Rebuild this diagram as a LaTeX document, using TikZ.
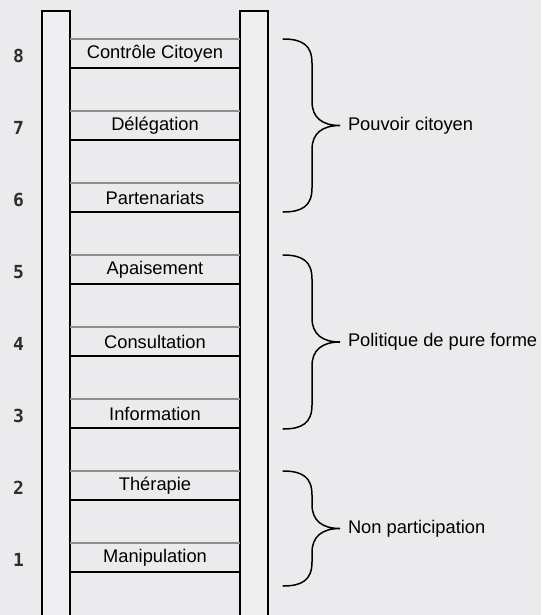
\documentclass[tikz,border=0pt]{standalone}
\usepackage{fontspec}
\setmainfont{Liberation Sans}
\newfontfamily\levelfamily{DejaVu Sans Mono}
\newcommand*{\rungfont}{\fontsize{18.3}{20}\selectfont}
\newcommand*{\levelfont}{\levelfamily\bfseries\fontsize{18}{20}\selectfont}
\definecolor{bg}{HTML}{EBEBED}
\definecolor{railfill}{HTML}{EFEFF1}
\definecolor{rungtopgrey}{HTML}{8E8E8E}
\definecolor{levelgrey}{HTML}{2E2E2E}
\usetikzlibrary{positioning}
\tikzstyle{base}=[x=1pt, y=-1pt, inner sep=0pt, outer sep=0pt]
\tikzstyle{rail}=[black, line width=2pt, fill=railfill]
\tikzstyle{rung}=[minimum width=170pt, minimum height=29pt, font=\rungfont]
\tikzstyle{rungtop}=[rungtopgrey, line width=1.6pt]
\tikzstyle{rungbottom}=[black, line width=2.2pt]
\tikzstyle{level}=[levelgrey, font=\levelfont]
\tikzstyle{brace}=[black, line width=1.5pt, line cap=round]
\tikzstyle{group}=[font=\rungfont, anchor=west]
% curly bracket: #1 top, #2 bottom, #3 name of its tip
\newcommand*{\groupbrace}[3]{%
    \pgfmathsetmacro{\bracemid}{(#1+#2)/2}
    \coordinate (#3) at (340,\bracemid);
    \draw [brace] (283,#1) .. controls (302,#1) and (312,{#1+6}) .. (312,{#1+24})
        -- (312,{\bracemid-24}) .. controls (312,{\bracemid-8}) and (322,\bracemid) .. (#3)
        .. controls (322,\bracemid) and (312,{\bracemid+8}) .. (312,{\bracemid+24})
        -- (312,{#2-24}) .. controls (312,{#2-6}) and (302,#2) .. (283,#2);
}

\begin{document}
\begin{tikzpicture}[base]
    \fill [bg] (0,0) rectangle (541,615);
    \useasboundingbox (0,0) rectangle (541,615);
    % rails
    \draw [rail] (42,11) rectangle (70,640);
    \draw [rail] (240,11) rectangle (268,640);
    % rungs
    \foreach \n/\txt in {8/Contrôle Citoyen, 7/Délégation, 6/Partenariats, 5/Apaisement,
                         4/Consultation, 3/Information, 2/Thérapie, 1/Manipulation} {
        \node [rung] (rung\n) at (155,{53.5 + (8-\n)*72}) {\raisebox{-1.5pt}{\txt}};
        \draw [rungtop] (rung\n.north west) -- (rung\n.north east);
        \draw [rungbottom] (rung\n.south west) -- (rung\n.south east);
        \node [level, left=46pt of rung\n, yshift=-2.5pt] (level\n) {\n};
    }
    % groups
    \groupbrace{39}{212}{power}
    \groupbrace{255}{429}{tokenism}
    \groupbrace{471}{586}{nonpart}
    \node [group, right=8pt of power] (powerlabel) {Pouvoir citoyen};
    \node [group, right=8pt of tokenism] (tokenismlabel) {Politique de pure forme};
    \node [group, right=8pt of nonpart] (nonpartlabel) {Non participation};
\end{tikzpicture}
\end{document}
